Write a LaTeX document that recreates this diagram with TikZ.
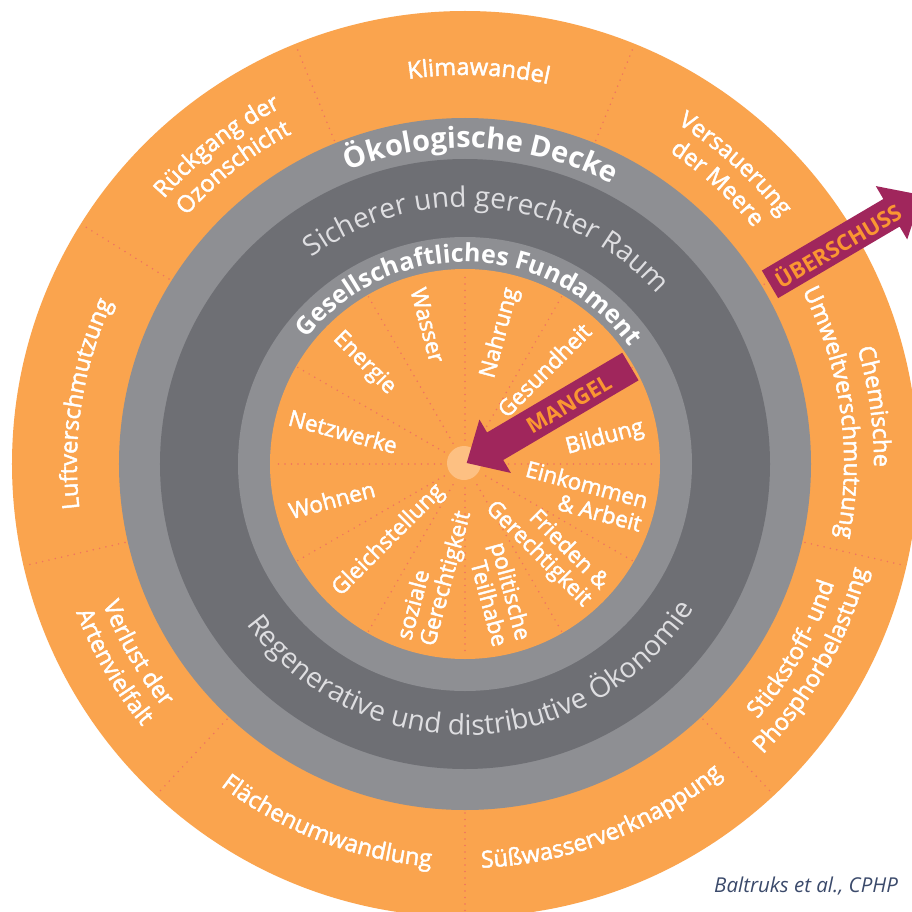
\documentclass[tikz,border=0pt]{standalone}
\usepackage{fontspec}
\setmainfont{Open Sans}
\newfontfamily\semib[FakeBold=2]{Open Sans}
\usetikzlibrary{decorations.text}
\definecolor{orng}{RGB}{250,164,78}
\definecolor{lgray}{RGB}{142,143,147}
\definecolor{dgray}{RGB}{110,111,116}
\definecolor{ltext}{RGB}{222,222,225}
\definecolor{dotc}{RGB}{240,115,95}
\definecolor{arrowc}{RGB}{160,38,92}
\definecolor{arrtext}{RGB}{250,150,50}
\definecolor{hubc}{RGB}{253,192,130}
\definecolor{creditc}{RGB}{59,74,107}
\newcommand\olab{\semib\fontsize{23.5}{27}\selectfont}
\newcommand\ilab{\semib\fontsize{22.5}{24}\selectfont}
\newcommand\hdbig{\bfseries\fontsize{29}{33}\selectfont}
\newcommand\hdsmall{\bfseries\fontsize{25}{29}\selectfont}
\newcommand\lightbig{\fontsize{28}{32}\selectfont}
% clockwise text (tops outward)
\newcommand\cwtext[5]{%
  \path[decorate,decoration={text along path,text align=center,text color=#4,text={|#3|#5}}]
    ({#1+80}:#2pt) arc[start angle={#1+80},end angle={#1-80},radius=#2pt];}
% counter-clockwise text (tops inward)
\newcommand\ccwtext[5]{%
  \path[decorate,decoration={text along path,text align=center,text color=#4,text={|#3|#5}}]
    ({#1-80}:#2pt) arc[start angle={#1-80},end angle={#1+80},radius=#2pt];}
\tikzset{
  dotline/.style={dotc,line width=1.7pt,line cap=round,dash pattern=on 0pt off 6.5pt},
  ilabel/.style={font=\ilab,text=white,inner sep=0pt},
  arrlabel/.style={font=\bfseries\fontsize{22}{25}\selectfont,text=arrtext,inner sep=0pt},
}
\begin{document}
\begin{tikzpicture}[x=1pt,y=1pt]
\useasboundingbox (-465,-447) rectangle (447,464);
\fill[white] (-465,-447) rectangle (447,464);
\clip (-465,-447) rectangle (447,464);
% rings
\fill[orng] (0,0) circle[radius=453pt];
\foreach \a in {31,68,112,148,193,227,270,313,347}
  \draw[dotline] (\a:349pt) -- (\a:452pt);
\fill[lgray] (0,0) circle[radius=346pt];
\fill[dgray] (0,0) circle[radius=305pt];
\fill[lgray] (0,0) circle[radius=227pt];
\fill[orng] (0,0) circle[radius=195pt];
\foreach \a in {0,30,...,330}
  \draw[dotline] (\a:24pt) -- (\a:193pt);
\fill[hubc] (-1,1) circle[radius=17pt];
% outer labels
\cwtext{88}{389}{\olab}{white}{Klimawandel}
\cwtext{128}{401}{\olab}{white}{Rückgang der}
\cwtext{128}{373}{\olab}{white}{Ozonschicht}
\cwtext{171}{388}{\olab}{white}{Luftverschmutzung}
\cwtext{48}{401}{\olab}{white}{Versauerung}
\cwtext{48}{373}{\olab}{white}{der Meere}
\cwtext{8}{409}{\olab}{white}{Chemische}
\cwtext{8}{379}{\olab}{white}{Umweltverschmutzung}
\ccwtext{210}{388}{\olab}{white}{Verlust der}
\ccwtext{210}{416}{\olab}{white}{Artenvielfalt}
\ccwtext{249}{404}{\olab}{white}{Flächenumwandlung}
\ccwtext{291}{404}{\olab}{white}{Süßwasserverknappung}
\ccwtext{330.5}{388}{\olab}{white}{Stickstoff- und}
\ccwtext{330.5}{416}{\olab}{white}{Phosphorbelastung}
% ring headings
\cwtext{87}{316}{\hdbig}{white}{Ökologische Decke}
\cwtext{84}{257}{\lightbig}{ltext}{Sicherer und gerechter Raum}
\cwtext{88.4}{202}{\hdsmall}{white}{Gesellschaftliches Fundament}
\ccwtext{272}{271}{\lightbig}{ltext}{Regenerative und distributive Ökonomie}
% inner labels
\node[ilabel,anchor=west,rotate=-75] (wasser) at (105:182pt) {Wasser};
\node[ilabel,anchor=east,rotate=75] (nahrung) at (75:182pt) {Nahrung};
\node[ilabel,anchor=east,rotate=45] (gesund) at (122,137) {Gesundheit};
\node[ilabel,anchor=east,rotate=15] (bildung) at (178.6,36.5) {Bildung};
\node[ilabel,anchor=east,rotate=-15,align=right] (einkommen) at (-15:186pt) {Einkommen\\\& Arbeit};
\node[ilabel,anchor=east,rotate=-45,align=right] (frieden) at (-45:185pt) {Frieden \&\\Gerechtigkeit};
\node[ilabel,anchor=east,rotate=-75,align=right] (politisch) at (-75:185pt) {politische\\Teilhabe};
\node[ilabel,anchor=west,rotate=75,align=left] (sozial) at (-105:185pt) {soziale\\Gerechtigkeit};
\node[ilabel,anchor=west,rotate=45] (gleich) at (-135:182pt) {Gleichstellung};
\node[ilabel,anchor=west,rotate=15] (wohnen) at (195:182pt) {Wohnen};
\node[ilabel,anchor=west,rotate=-15] (netz) at (165:182pt) {Netzwerke};
\node[ilabel,anchor=west,rotate=-45] (energie) at (135:182pt) {Energie};
% arrows
\begin{scope}[rotate=30.5]
  \fill[arrowc] (192,16) -- (35,16) -- (35,31) -- (2,0) -- (35,-31) -- (35,-16) -- (192,-16) -- cycle;
  \node[arrlabel,rotate=30.5] (mangel) at (120,-1) {MANGEL};
  \fill[arrowc] (354,16) -- (495,16) -- (495,31) -- (530,0) -- (495,-31) -- (495,-16) -- (354,-16) -- cycle;
  \node[arrlabel,rotate=30.5] (ueber) at (432,0) {ÜBERSCHUSS};
\end{scope}
% credit
\node[anchor=base west,inner sep=0pt,text=creditc,font=\itshape\fontsize{20.5}{23}\selectfont] (credit) at (249,-428) {Baltruks et al., CPHP};
\end{tikzpicture}
\end{document}
